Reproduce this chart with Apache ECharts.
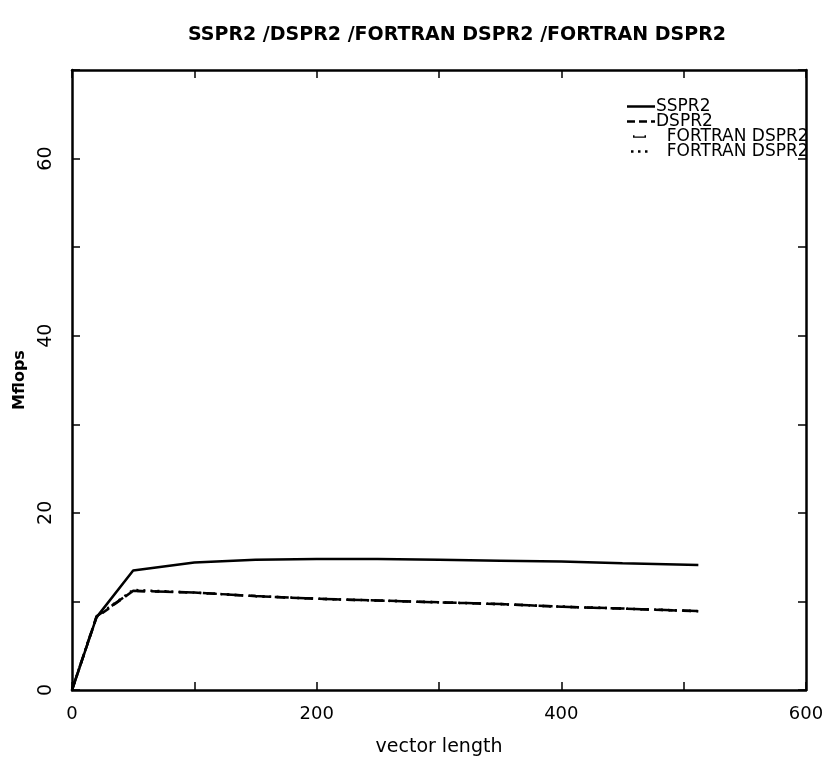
<!DOCTYPE html>
<html>
<head>
<meta charset="utf-8">
<script src="https://cdn.jsdelivr.net/npm/echarts@6/dist/echarts.min.js"></script>
<style>html,body{margin:0;padding:0;background:#fff;}#c{width:828px;height:765px;}</style>
</head>
<body>
<div id="c"></div>
<script>
const vectorLength = [0, 20, 50, 100, 150, 200, 250, 300, 350, 400, 450, 512];
const sspr2        = [0, 8.2, 13.5, 14.4, 14.7, 14.8, 14.8, 14.7, 14.6, 14.5, 14.3, 14.1];
const dspr2        = [0, 8.2, 11.2, 11.0, 10.6, 10.3, 10.1, 9.9, 9.7, 9.4, 9.2, 8.9];
const fortranA     = [0, 8.3, 11.2, 11.0, 10.6, 10.3, 10.1, 9.9, 9.7, 9.4, 9.2, 8.9];
const fortranB     = [0, 8.3, 11.3, 11.0, 10.6, 10.3, 10.1, 9.9, 9.7, 9.4, 9.2, 8.9];
const seriesNames  = ['SSPR2', 'DSPR2', 'FORTRAN DSPR2', 'FORTRAN DSPR2 '];
const xTickLabels  = [0, 200, 400, 600];
const yTickLabels  = [0, 20, 40, 60];

const pairs = (ys) => vectorLength.map((x, i) => [x, ys[i]]);
const font = 'DejaVu Sans';
const chart = echarts.init(document.getElementById('c'));
const lineSeries = (name, ys, type, width) => ({
  name, type: 'line', data: pairs(ys), symbol: 'none', smooth: false,
  lineStyle: { color: '#000', width: width, type: type }, itemStyle: { color: '#000' },
  xAxisIndex: 0, yAxisIndex: 0
});
const box = ' M0,0 L0.1,0 L0.1,0.1 L0,0.1 Z M27.9,2.4 L28,2.4 L28,2.5 L27.9,2.5 Z';
const icons = [
  'path://M0,0 L28,0 L28,2.5 L0,2.5 Z',
  'path://M0,0 L8,0 L8,2.5 L0,2.5 Z M12,0 L20,0 L20,2.5 L12,2.5 Z M24,0 L28,0 L28,2.5 L24,2.5 Z',
  'path://M6,0 L7.5,0 L7.5,1.2 L17.5,1.2 L17.5,0 L19,0 L19,2.5 L6,2.5 Z' + box,
  'path://M4,0 L6.5,0 L6.5,2.5 L4,2.5 Z M11,0 L13.5,0 L13.5,2.5 L11,2.5 Z M18,0 L20.5,0 L20.5,2.5 L18,2.5 Z' + box
];
const boxAxis = (extra) => Object.assign({
  axisLine: { show: true, onZero: false, lineStyle: { color: '#000', width: 2.5 } },
  axisTick: { show: true, inside: true, length: 8, lineStyle: { color: '#000', width: 1.5 } },
  splitLine: { show: false }
}, extra);
chart.setOption({
  animation: false,
  backgroundColor: '#fff',
  title: {
    text: seriesNames.map(s => s.trim()).join(' /'),
    left: 452, top: 21, textAlign: 'center',
    textStyle: { fontFamily: font, fontSize: 19, fontWeight: 'bold', color: '#000' }
  },
  legend: {
    left: 622, top: 93, orient: 'vertical', itemGap: -2, itemWidth: 28, itemHeight: 3,
    textStyle: { fontFamily: font, fontSize: 17, color: '#000', padding: [0, 0, 0, -4] },
    formatter: n => n.startsWith('FORTRAN') ? '  ' + n.trim() : n,
    data: seriesNames.map((n, i) => ({ name: n, icon: icons[i] }))
  },
  grid: { left: 72, right: 22, top: 70, bottom: 75 },
  xAxis: [boxAxis({
    type: 'value', min: 0, max: 600, interval: 100,
    name: 'vector length', nameLocation: 'middle', nameGap: 48,
    nameTextStyle: { fontFamily: font, fontSize: 19, color: '#000' },
    axisLabel: { margin: 15, fontFamily: font, fontSize: 18, color: '#000',
      formatter: v => xTickLabels.includes(v) ? String(v) : '' }
  }), boxAxis({
    type: 'value', min: 0, max: 600, interval: 100, position: 'top',
    axisLabel: { show: false }
  })],
  yAxis: [boxAxis({
    type: 'value', min: 0, max: 70, interval: 10,
    name: 'Mflops', nameLocation: 'middle', nameGap: 44, nameRotate: 90,
    nameTextStyle: { fontFamily: font, fontSize: 16, fontWeight: 'bold', color: '#000' },
    axisLabel: { rotate: 90, margin: 16, fontFamily: font, fontSize: 19, color: '#000',
      formatter: v => yTickLabels.includes(v) ? String(v) : '' }
  }), boxAxis({
    type: 'value', min: 0, max: 70, interval: 10, position: 'right',
    axisLabel: { show: false }
  })],
  series: [
    lineSeries(seriesNames[0], sspr2, 'solid', 2.5),
    lineSeries(seriesNames[1], dspr2, [8, 6], 2.5),
    lineSeries(seriesNames[2], fortranA, [14, 10], 2.5),
    lineSeries(seriesNames[3], fortranB, [2, 5], 2.5)
  ]
});
</script>
</body>
</html>
